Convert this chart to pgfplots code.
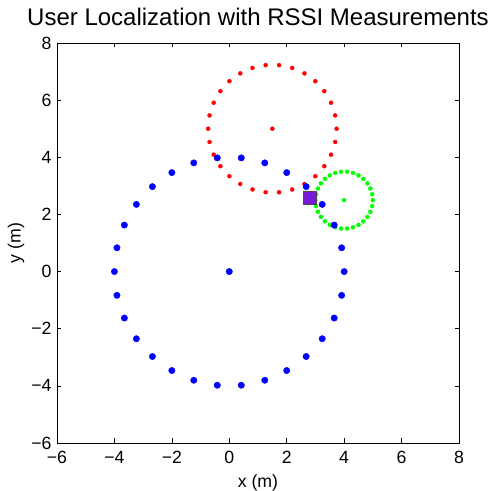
\documentclass[border=0pt]{standalone}
\usepackage{fontspec}
\setmainfont{Liberation Sans}
\usepackage{pgfplots}
\pgfplotsset{compat=1.18}
\definecolor{mypurple}{RGB}{120,25,215}
\begin{document}
\begin{tikzpicture}
\begin{axis}[
  name=ax,
  scale only axis,
  width=402pt, height=400pt,
  xmin=-6, xmax=8, ymin=-6, ymax=8,
  xtick={-6,-4,...,8}, ytick={-6,-4,...,8},
  xticklabels={−6,−4,−2,0,2,4,6,8},
  yticklabels={−6,−4,−2,0,2,4,6,8},
  tick align=inside,
  major tick length=4.5pt,
  axis line style={line width=0.8pt},
  every tick/.style={black, line width=0.6pt},
  tick label style={font=\fontsize{17.7}{20}\selectfont},
  xticklabel style={yshift=-5pt},
  yticklabel style={xshift=-2pt},
  label style={font=\fontsize{17.7}{20}\selectfont},
  title style={font=\fontsize{24}{26}\selectfont, yshift=8pt},
  title={User Localization with RSSI Measurements},
  xlabel={x (m)}, ylabel={y (m)},
  xlabel style={yshift=-4pt},
  ylabel style={yshift=0pt},
  clip=false,
]
\addplot[only marks, mark=*, mark size=2pt, color=red, mark options={draw=none, fill=red}] coordinates {
(1.5,5)
(3.736,5) (3.687,5.465) (3.543,5.909) (3.309,6.314) (2.996,6.662) (2.618,6.936)
(2.191,7.127) (1.734,7.224) (1.266,7.224) (0.809,7.127) (0.382,6.936) (0.004,6.662)
(-0.309,6.314) (-0.543,5.909) (-0.687,5.465) (-0.736,5) (-0.687,4.535) (-0.543,4.091)
(-0.309,3.686) (0.004,3.338) (0.382,3.064) (0.809,2.873) (1.266,2.776) (1.734,2.776)
(2.191,2.873) (2.618,3.064) (2.996,3.338) (3.309,3.686) (3.543,4.091) (3.687,4.535)
};
\addplot[only marks, mark=*, mark size=2pt, color=green, mark options={draw=none, fill=green}] coordinates {
(4,2.5)
(5,2.5) (4.978,2.708) (4.914,2.907) (4.809,3.088) (4.669,3.243) (4.5,3.366)
(4.309,3.451) (4.105,3.495) (3.895,3.495) (3.691,3.451) (3.5,3.366) (3.331,3.243)
(3.191,3.088) (3.086,2.907) (3.022,2.708) (3,2.5) (3.022,2.292) (3.086,2.093)
(3.191,1.912) (3.331,1.757) (3.5,1.634) (3.691,1.549) (3.895,1.505) (4.105,1.505)
(4.309,1.549) (4.5,1.634) (4.669,1.757) (4.809,1.912) (4.914,2.093) (4.978,2.292)
};
\addplot[only marks, mark=*, mark size=3.2pt, color=blue, mark options={draw=none, fill=blue}] coordinates {
(0,0)
(4,0) (3.913,0.832) (3.654,1.627) (3.236,2.351) (2.677,2.973) (2,3.464)
(1.236,3.804) (0.418,3.978) (-0.418,3.978) (-1.236,3.804) (-2,3.464) (-2.677,2.973)
(-3.236,2.351) (-3.654,1.627) (-3.913,0.832) (-4,0) (-3.913,-0.832) (-3.654,-1.627)
(-3.236,-2.351) (-2.677,-2.973) (-2,-3.464) (-1.236,-3.804) (-0.418,-3.978) (0.418,-3.978)
(1.236,-3.804) (2,-3.464) (2.677,-2.973) (3.236,-2.351) (3.654,-1.627) (3.913,-0.832)
};
\addplot[only marks, mark=square*, mark size=6.5pt, mark options={draw=black!70, fill=mypurple, line width=1.2pt}] coordinates {(2.81,2.57)};
\end{axis}
\pgfresetboundingbox
\path (ax.south west)++(-57pt,-48pt) coordinate (bl);
\path (ax.north east)++(38pt,43pt) coordinate (tr);
\path (bl) rectangle (tr);
\end{tikzpicture}
\end{document}
